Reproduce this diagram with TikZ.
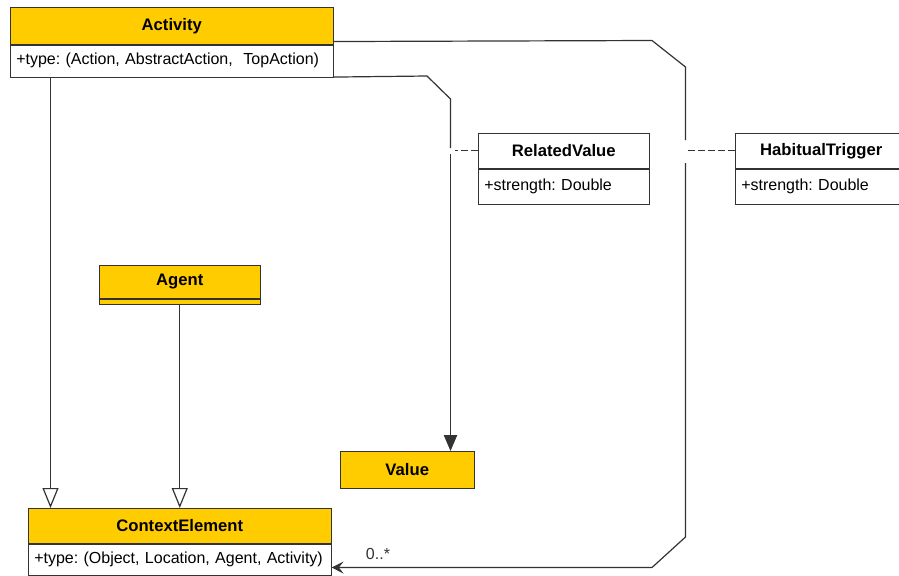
\documentclass[tikz,border=0pt]{standalone}
\usepackage{fontspec}
\setmainfont{Liberation Sans}
\frenchspacing
\usetikzlibrary{arrows.meta}
\definecolor{clshead}{RGB}{255,204,0}
\definecolor{clsline}{RGB}{51,51,51}
\begin{document}
\begin{tikzpicture}[x=0.75pt, y=-0.75pt,
    head/.style={draw=clsline, fill=clshead, anchor=north west, inner sep=0pt,
      font=\fontsize{12.5}{15}\selectfont\bfseries},
    attr/.style={draw=clsline, fill=white, anchor=north west, inner xsep=4.5pt,
      inner ysep=0pt, align=left, font=\fontsize{12}{14}\selectfont},
    link/.style={draw=clsline, line width=0.9pt},
    gen/.style={link, -{Triangle[open, fill=white, length=15pt, width=12pt]}},
    assoc/.style={link, -{Stealth[length=9pt, width=9pt, inset=3.5pt]}},
    dep/.style={link, -{Triangle[length=12pt, width=10pt]}},
    assocls/.style={link, dash pattern=on 5pt off 2.5pt}]
      \path[use as bounding box, clip] (0,0) rectangle (899,575);
      % classes
      \node[head, minimum width=242.25pt, minimum height=27.75pt] (act) at (10,7) {Activity};
      \node[attr, text width=233.25pt, minimum height=24pt] (acta) at (act.south west)
        {+type: (Action, AbstractAction,~ TopAction)};
      \node[head, fill=white, minimum width=128.25pt, minimum height=26.25pt] (rv) at (478,133) {RelatedValue};
      \node[attr, text width=119.25pt, minimum height=26.25pt] (rva) at (rv.south west) {+strength: Double};
      \node[head, fill=white, minimum width=129pt, minimum height=26.25pt] (ht) at (735,133) {HabitualTrigger};
      \node[attr, text width=120pt, minimum height=26.25pt] (hta) at (ht.south west) {+strength: Double};
      \node[head, minimum width=120.75pt, minimum height=24.75pt] (ag) at (99,265) {Agent};
      \node[attr, fill=clshead, inner sep=0pt, minimum width=120.75pt, minimum height=3.75pt] (aga) at (ag.south west) {};
      \node[head, minimum width=100.5pt, minimum height=27.75pt] (val) at (340,451) {Value};
      \node[head, minimum width=227.25pt, minimum height=26.25pt] (ce) at (28,508) {ContextElement};
      \node[attr, text width=218.25pt, minimum height=23.25pt] (cea) at (ce.south west)
        {+type: (Object, Location, Agent, Activity)};
      % bend points
      \coordinate (c1) at (652,40.5);
      \coordinate (c2) at (685.5,67);
      \coordinate (c3) at (685.5,140);
      \coordinate (c4) at (685.5,163);
      \coordinate (c5) at (685.5,537);
      \coordinate (c6) at (652,567.5);
      \coordinate (d1) at (427,76);
      \coordinate (d2) at (450.5,99);
      \coordinate (d3) at (450.5,148);
      \coordinate (d4) at (450.5,154);
      \coordinate (e1) at (455,150);
      \coordinate (g1) at (50.5,0);
      % connectors
      \draw[gen] (acta.south -| g1) -- (ce.north -| g1);
      \draw[gen] (aga.south) -- (aga.south |- ce.north);
      \draw[link] ([yshift=2.25pt]act.south east) -- (c1) -- (c2) -- (c3);
      \draw[assoc] (c4) -- (c5) -- (c6) -- (c6 -| cea.east);
      \node[font=\fontsize{12}{14}\selectfont, text=clsline] (mult) at (378,554) {0..*};
      \draw[link] (acta.south east) -- (d1) -- (d2) -- (d3);
      \draw[dep] (d4) -- (d4 |- val.north);
      \draw[assocls] (rv.west) -- (rv.west -| e1);
      \draw[assocls] (ht.west) -- (ht.west -| c3);
    \end{tikzpicture}
\end{document}
